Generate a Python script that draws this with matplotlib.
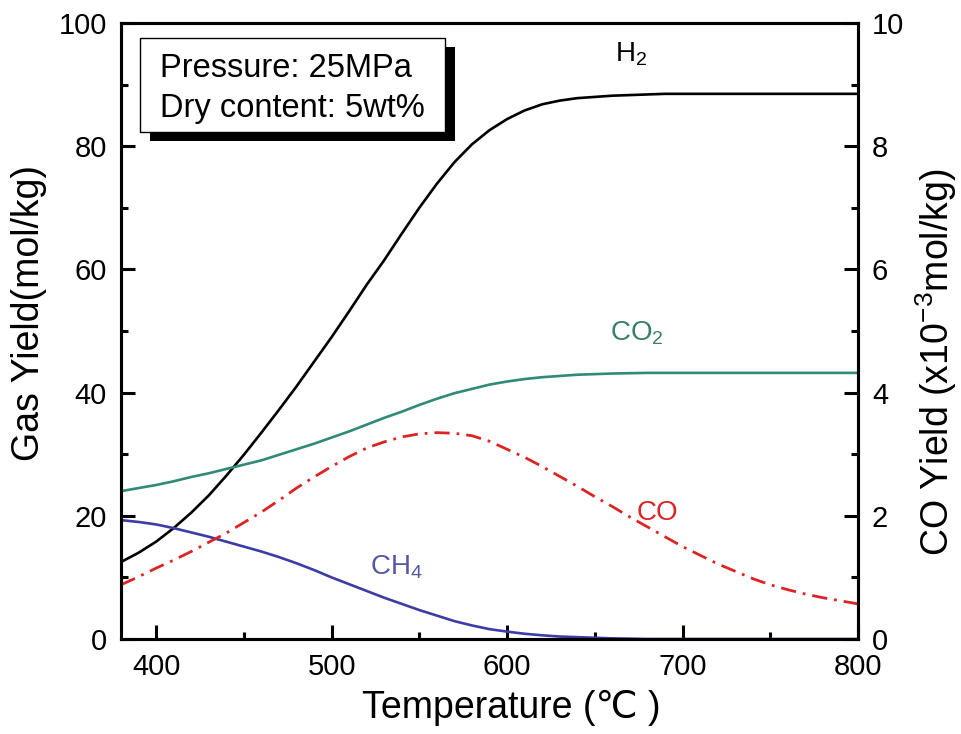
import matplotlib
matplotlib.use("Agg")
import matplotlib.pyplot as plt
from matplotlib.patches import Rectangle
from matplotlib.ticker import MultipleLocator

plt.rcParams['font.family'] = ['Liberation Sans', 'DejaVu Sans', 'Noto Sans CJK SC']
plt.rcParams['mathtext.default'] = 'regular'

# temperature grid (degC), 380..800 every 10, and yields
temperature = list(range(380, 801, 10))
h2 = [12.5, 14.0, 15.8, 18.0, 20.5, 23.3, 26.5, 29.9, 33.5, 37.2,
      41.0, 45.0, 49.0, 53.2, 57.5, 61.5, 65.8, 70.0, 73.9, 77.4,
      80.3, 82.6, 84.4, 85.8, 86.8, 87.4, 87.8, 88.0, 88.2, 88.3,
      88.4, 88.5, 88.5, 88.5, 88.5, 88.5, 88.5, 88.5, 88.5, 88.5,
      88.5, 88.5, 88.5]
co2 = [24.0, 24.5, 25.0, 25.6, 26.3, 26.9, 27.6, 28.3, 29.0, 29.9,
       30.8, 31.7, 32.7, 33.7, 34.8, 35.9, 36.9, 38.0, 39.0, 39.9,
       40.6, 41.3, 41.8, 42.2, 42.5, 42.7, 42.9, 43.0, 43.1, 43.15,
       43.2, 43.2, 43.2, 43.2, 43.2, 43.2, 43.2, 43.2, 43.2, 43.2,
       43.2, 43.2, 43.2]
ch4 = [19.3, 19.0, 18.6, 18.0, 17.3, 16.6, 15.8, 15.0, 14.2, 13.3,
       12.3, 11.2, 10.0, 8.9, 7.8, 6.7, 5.7, 4.7, 3.8, 2.9,
       2.2, 1.6, 1.2, 0.85, 0.6, 0.4, 0.3, 0.2, 0.1, 0.05,
       0.0, 0.0, 0.0, 0.0, 0.0, 0.0, 0.0, 0.0, 0.0, 0.0,
       0.0, 0.0, 0.0]
# CO on the right axis, x10^-3 mol/kg
co = [0.88, 1.01, 1.15, 1.28, 1.42, 1.57, 1.72, 1.89, 2.06, 2.25,
      2.45, 2.63, 2.80, 2.96, 3.10, 3.20, 3.28, 3.33, 3.35, 3.34,
      3.30, 3.21, 3.08, 2.95, 2.80, 2.64, 2.48, 2.31, 2.15, 1.98,
      1.82, 1.66, 1.50, 1.36, 1.22, 1.10, 0.98, 0.88, 0.80, 0.73,
      0.67, 0.62, 0.57]

c_h2 = 'black'
c_co2 = '#2f8a78'
c_ch4 = '#3c3ca6'
c_co = '#dd2424'

fig = plt.figure(figsize=(9.62, 7.34), dpi=100)
ax = fig.add_axes([121 / 962, 1 - 639 / 734, 737 / 962, 616 / 734])
ax2 = ax.twinx()

ax.plot(temperature, h2, color=c_h2, lw=1.9)
ax.plot(temperature, co2, color=c_co2, lw=1.9)
ax.plot(temperature, ch4, color=c_ch4, lw=1.9)
ax2.plot(temperature, co, color=c_co, lw=2.0, linestyle=(0, (5.5, 2.5, 1, 2.5)))

ax.set_xlim(380, 800)
ax.set_ylim(0, 100)
ax2.set_ylim(0, 10)

ax.xaxis.set_major_locator(MultipleLocator(100))
ax.xaxis.set_minor_locator(MultipleLocator(50))
ax.yaxis.set_major_locator(MultipleLocator(20))
ax.yaxis.set_minor_locator(MultipleLocator(10))
ax2.yaxis.set_major_locator(MultipleLocator(2))
ax2.yaxis.set_minor_locator(MultipleLocator(1))

for a in (ax, ax2):
    for sp in a.spines.values():
        sp.set_linewidth(2.2)
    a.tick_params(which='major', direction='in', length=10, width=2.2, labelsize=21, pad=10)
    a.tick_params(which='minor', direction='in', length=5, width=2.2)

ax.set_xlabel('Temperature (\u2103 )', fontsize=27)
ax.xaxis.set_label_coords(0.53, -0.083)
ax.set_ylabel('Gas Yield(mol/kg)', fontsize=27)
ax.yaxis.set_label_coords(-0.10, 0.53)
ax2.set_ylabel('CO Yield (x10$^{-3}$mol/kg)', fontsize=27)
ax2.yaxis.set_label_coords(1.075, 0.45)

# curve labels
ax.text(661.5, 93.7, 'H$_2$', color=c_h2, fontsize=20)
ax.text(658.6, 48.5, 'CO$_2$', color='#3a7d6c', fontsize=20)
ax.text(674, 19.3, 'CO', color=c_co, fontsize=20)
ax.text(521.9, 10.4, 'CH$_4$', color='#5656a6', fontsize=20)

# condition box with drop shadow
ax.add_patch(Rectangle((0.0393, 0.808), 0.4139, 0.153, transform=ax.transAxes,
                       facecolor='black', edgecolor='none', zorder=5))
ax.add_patch(Rectangle((0.0258, 0.823), 0.4138, 0.1526, transform=ax.transAxes,
                       facecolor='white', edgecolor='black', lw=1.0, zorder=6))
ax.text(0.053, 0.912, 'Pressure: 25MPa', transform=ax.transAxes, fontsize=23.5, zorder=7)
ax.text(0.053, 0.847, 'Dry content: 5wt%', transform=ax.transAxes, fontsize=23.5, zorder=7)

fig.savefig('out.png', dpi=100)
